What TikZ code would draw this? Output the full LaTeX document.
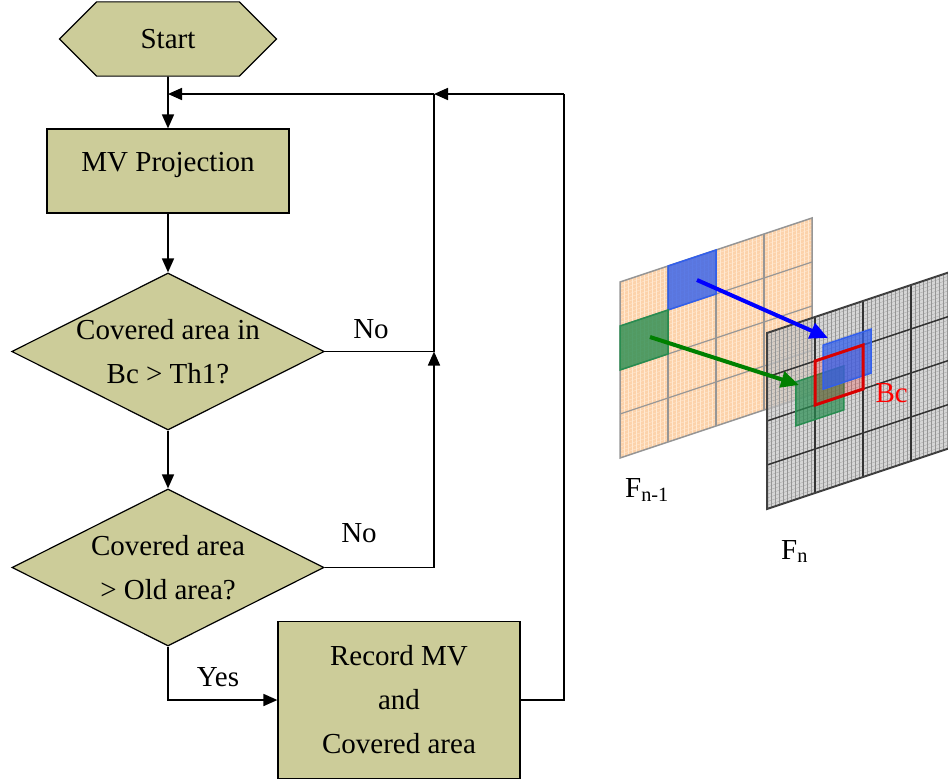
\documentclass[tikz,border=0pt]{standalone}
\usepackage{fontspec}
\setmainfont{Liberation Serif}
\usetikzlibrary{shapes.geometric,shapes.misc,arrows.meta}
\definecolor{khaki}{RGB}{204,204,153}
\definecolor{peach}{RGB}{252,210,170}
\definecolor{peachmesh}{RGB}{255,232,208}
\definecolor{framegrey}{RGB}{200,200,200}
\definecolor{meshgrey}{RGB}{150,150,150}
\definecolor{mvblue}{RGB}{50,95,235}
\definecolor{mvgreen}{RGB}{40,140,80}
\begin{document}
\begin{tikzpicture}[x=1pt,y=-1pt]
  \tikzstyle{every node}=[font=\fontsize{29}{44}\selectfont];
  \tikzstyle{block}=[draw,fill=khaki,line width=1.2pt,minimum width=242pt,align=center];
  \tikzstyle{decision}=[draw,fill=khaki,line width=1.2pt,diamond,aspect=2,minimum width=312pt,minimum height=157pt,inner sep=0pt,align=center];
  \tikzstyle{line}=[line width=1.7pt];
  \tikzstyle{thinline}=[line width=1.2pt];
  \tikzstyle{arrow}=[line,-{Triangle[length=14pt,width=12pt]}];
  \tikzstyle{mvarrow}=[line width=4pt,-{Triangle[length=18pt,width=16pt]}];
  \clip (0,0) rectangle (948,780);
  % flow chart
  \node (start) at (168,39) [draw,fill=khaki,line width=1.2pt,chamfered rectangle,chamfered rectangle xsep=43pt,chamfered rectangle ysep=30pt,minimum width=217pt,minimum height=60pt,inner sep=0pt] {Start};
  \node (proj) at (168,171) [block,minimum height=84pt,text height=20pt,text depth=20pt] {MV Projection};
  \node (test1) at (168,351.5) [decision] {Covered area in\\Bc > Th1?};
  \node (test2) at (168,567.5) [decision] {Covered area\\> Old area?};
  \node (record) at (399,700) [block,minimum height=157pt] {Record MV\\and\\Covered area};
  \node (no1) at (371,338) [anchor=base] {No};
  \node (no2) at (359,542) [anchor=base] {No};
  \node (yes) at (218,686) [anchor=base] {Yes};
  \coordinate (fb) at (168,94);
  \coordinate (jn) at (434,94);
  \coordinate (rt) at (564,94);
  \coordinate (merge) at (434,351.5);
  \coordinate (low) at (434,567.5);
  \draw[arrow] (start) -- (proj);
  \draw[arrow] (proj) -- (test1);
  \draw[arrow] (test1) -- (test2);
  \draw[line] (test1) -- (merge);
  \draw[arrow] (test2.east) -- (low) -- (merge);
  \draw[thinline] (merge) -- (jn);
  \draw[arrow] (test2.south) |- (record.west);
  \draw[thinline] (record.east) -| (rt);
  \draw[arrow] (rt) -- (jn);
  \draw[arrow] (jn) -- (fb);
  % previous frame
  \begin{scope}[shift={(620,282)},x={(48pt,16pt)},y={(0pt,-44pt)}]
    \fill[peach] (0,0) -- (4,0) -- (4,4) -- (0,4) -- cycle;
    \foreach \k in {1,...,47} {
      \draw[peachmesh,line width=0.4pt] (\k/12,0) -- (\k/12,4);
      \draw[peachmesh,line width=0.4pt] (0,\k/12) -- (4,\k/12);
    }
    \foreach \k in {1,2,3} {
      \draw[meshgrey,line width=1.2pt] (\k,0) -- (\k,4);
      \draw[meshgrey,line width=1.2pt] (0,\k) -- (4,\k);
    }
    \draw[meshgrey,line width=1.5pt] (0,0) -- (4,0) -- (4,4) -- (0,4) -- cycle;
    \draw[mvblue,fill=mvblue,fill opacity=0.8,line width=1.5pt] (1,0) -- (2,0) -- (2,1) -- (1,1) -- cycle;
    \draw[mvgreen,fill=mvgreen,fill opacity=0.8,line width=1.5pt] (0,1) -- (1,1) -- (1,2) -- (0,2) -- cycle;
  \end{scope}
  % current frame
  \begin{scope}[shift={(767,333)},x={(48pt,16pt)},y={(0pt,-44pt)}]
    \fill[framegrey,fill opacity=0.75] (0,0) -- (4,0) -- (4,4) -- (0,4) -- cycle;
    \foreach \k in {1,...,47} {
      \draw[meshgrey,line width=0.25pt] (\k/12,0) -- (\k/12,4);
      \draw[meshgrey,line width=0.25pt] (0,\k/12) -- (4,\k/12);
    }
    \foreach \k in {1,2,3} {
      \draw[black!80,line width=1.5pt] (\k,0) -- (\k,4);
      \draw[black!80,line width=1.5pt] (0,\k) -- (4,\k);
    }
    \draw[black!75,line width=2pt] (0,0) -- (4,0) -- (4,4) -- (0,4) -- cycle;
    \draw[mvgreen,fill=mvgreen,fill opacity=0.7,line width=1.5pt] (0.6,1.33) -- (1.6,1.33) -- (1.6,2.33) -- (0.6,2.33) -- cycle;
    \fill[red,opacity=0.2] (1,1) -- (2,1) -- (2,2) -- (1,2) -- cycle;
    \draw[mvblue,fill=mvblue,fill opacity=0.75,line width=1.5pt] (1.17,0.7) -- (2.17,0.7) -- (2.17,1.7) -- (1.17,1.7) -- cycle;
    \draw[red!85!black,line width=3pt] (1,1) -- (2,1) -- (2,2) -- (1,2) -- cycle;
  \end{scope}
  \coordinate (bluefrom) at (697,280);
  \coordinate (blueto) at (828,338);
  \coordinate (greenfrom) at (650,337);
  \coordinate (greento) at (799,385);
  \draw[mvarrow,blue] (bluefrom) -- (blueto);
  \draw[mvarrow,green!50!black] (greenfrom) -- (greento);
  \node (bc) at (872,402) [anchor=base west,red] {Bc};
  \node (prev) at (625,497) [anchor=base west,inner sep=0pt] {F\textsubscript{n-1}};
  \node (curr) at (781,559) [anchor=base west,inner sep=0pt] {F\textsubscript{n}};
\end{tikzpicture}
\end{document}
